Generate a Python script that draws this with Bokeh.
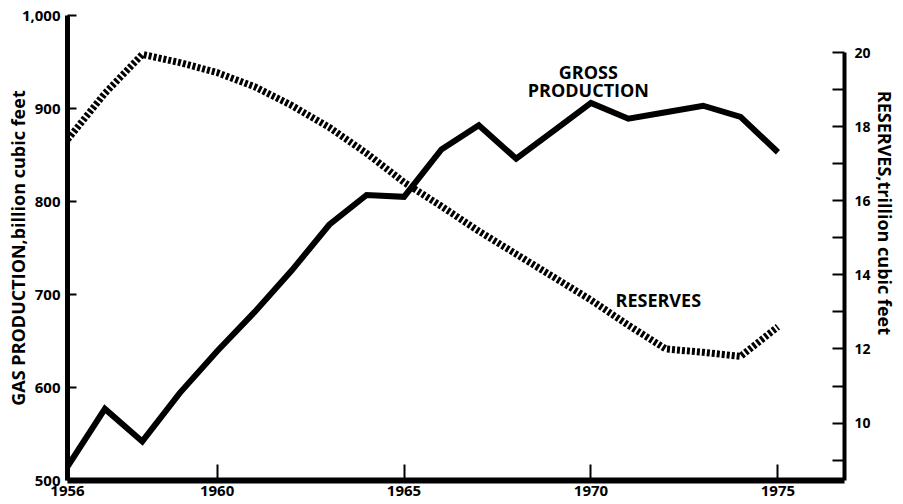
from bokeh.plotting import figure
from bokeh.models import (Range1d, LinearAxis, FixedTicker, NumeralTickFormatter,
                          ColumnDataSource)
from bokeh.core.properties import value
from bokeh.embed import file_html
from bokeh.resources import INLINE

# ---- data ----
years = [1956, 1957, 1958, 1959, 1960, 1961, 1962, 1963, 1964, 1965,
         1966, 1967, 1968, 1969, 1970, 1971, 1972, 1973, 1974, 1975]
production = [515, 577, 542, 594, 639, 681, 726, 775, 807, 805,
              856, 882, 846, 876, 906, 889, 896, 903, 891, 853]
reserves = [17.65, 18.9, 19.95, 19.73, 19.46, 19.08, 18.57, 17.98, 17.28, 16.5,
            15.85, 15.18, 14.56, 13.94, 13.32, 12.64, 12.0, 11.91, 11.8, 12.6]

x_ticks = [1956, 1960, 1965, 1970, 1975]
left_ticks = [500, 600, 700, 800, 900, 1000]
right_ticks = [10, 12, 14, 16, 18, 20]
right_minor = [9, 11, 13, 15, 17, 19]

FONT = "Open Sans"
NBSP = "\u00a0"

p = figure(width=903, height=504,
           min_border_left=67, min_border_right=59,
           min_border_top=15, min_border_bottom=24,
           x_range=Range1d(1956, 1976.78), y_range=Range1d(500, 1000),
           output_backend="svg", toolbar_location=None,
           x_axis_type=None, y_axis_type=None)
p.background_fill_color = "white"
p.border_fill_color = "white"
p.outline_line_color = None
p.grid.visible = False
p.extra_y_ranges = {"res": Range1d(8.45, 21.0)}

# bottom axis
xa = LinearAxis(ticker=FixedTicker(ticks=x_ticks))
xa.axis_line_width = 6
xa.major_tick_in = 16
xa.major_tick_out = 0
xa.major_tick_line_width = 2
xa.minor_tick_line_color = None
xa.major_label_standoff = 5
xa.major_label_text_font = FONT
xa.major_label_text_font_style = "bold"
xa.major_label_text_font_size = "15px"
xa.major_label_text_color = "black"
p.add_layout(xa, "below")

# left axis
ya = LinearAxis(ticker=FixedTicker(ticks=left_ticks),
                formatter=NumeralTickFormatter(format="0,0"))
ya.axis_label = "GAS PRODUCTION,billion cubic feet"
ya.axis_line_width = 5
ya.major_tick_in = 9
ya.major_tick_out = 0
ya.major_tick_line_width = 2
ya.minor_tick_line_color = None
ya.major_label_standoff = 7
ya.major_label_text_font = FONT
ya.major_label_text_font_style = "bold"
ya.major_label_text_font_size = "15px"
ya.major_label_text_color = "black"
ya.axis_label_text_font = FONT
ya.axis_label_text_font_style = "bold"
ya.axis_label_text_font_size = "18px"
ya.axis_label_text_color = "black"
ya.axis_label_standoff = -11
p.add_layout(ya, "left")

# right axis
ra = LinearAxis(y_range_name="res",
                ticker=FixedTicker(ticks=right_ticks, minor_ticks=right_minor))
ra.bounds = (8.45, 20)
ra.axis_label = "RESERVES,trillion cubic feet" + NBSP * 15
ra.axis_line_width = 4
ra.major_tick_in = 12
ra.major_tick_out = 0
ra.minor_tick_in = 12
ra.minor_tick_out = 0
ra.major_tick_line_width = 2
ra.minor_tick_line_width = 2
ra.minor_tick_line_color = "black"
ra.major_label_standoff = 10
ra.major_label_text_font = FONT
ra.major_label_text_font_style = "bold"
ra.major_label_text_font_size = "14px"
ra.major_label_text_color = "black"
ra.axis_label_text_font = FONT
ra.axis_label_text_font_style = "bold"
ra.axis_label_text_font_size = "18px"
ra.axis_label_text_color = "black"
ra.axis_label_standoff = -1
p.add_layout(ra, "right")

src = ColumnDataSource(dict(year=years, production=production, reserves=reserves))

p.line("year", "reserves", source=src, y_range_name="res", line_color="black",
       line_width=7, line_dash="3 2", line_cap="butt")
p.line("year", "production", source=src, line_color="black", line_width=6,
       line_join="miter")

p.text(x=[1969.93, 1969.93], y=[939, 920], text=["GROSS", "PRODUCTION"],
       text_align="center", text_baseline="middle", text_font=value(FONT),
       text_font_style="bold", text_font_size="18px", text_color="black")
p.text(x=[1971.8], y=[694], text=["RESERVES"],
       text_align="center", text_baseline="middle", text_font=value(FONT),
       text_font_style="bold", text_font_size="18px", text_color="black")

open("out.html", "w").write(file_html(p, INLINE))
